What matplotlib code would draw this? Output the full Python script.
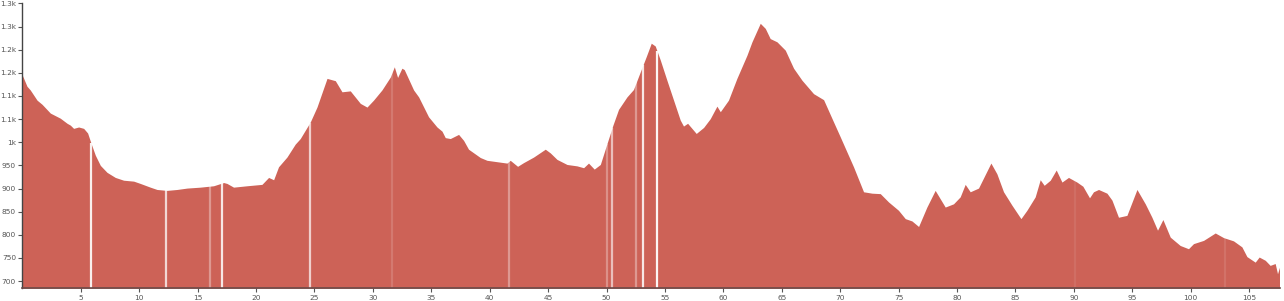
import matplotlib
matplotlib.use("Agg")
import matplotlib.pyplot as plt
import numpy as np

# distance along route (km) and elevation (m)
distance_km = [
    0.0, 0.4, 0.68, 1.26, 1.69, 2.4, 3.25, 3.83, 4.11, 4.39, 4.82, 5.25, 5.59, 5.88,
    6.25, 6.68, 7.25, 7.96, 8.67, 9.53, 10.1, 10.95, 11.53, 12.38, 13.24, 14.1, 15.23,
    16.37, 17.23, 17.52, 18.08, 19.23, 20.51, 21.08, 21.51, 21.93, 22.65, 23.36, 23.79,
    24.65, 25.22, 26.08, 26.79, 27.36, 28.07, 28.93, 29.5, 30.06, 30.78, 31.5, 31.84,
    32.12, 32.49, 32.69, 33.49, 33.92, 34.77, 35.49, 35.92, 36.2, 36.63, 37.34, 37.77,
    38.19, 39.2, 39.77, 41.48, 41.76, 42.39, 42.9, 43.76, 44.76, 45.19, 45.76, 46.62,
    47.47, 48.04, 48.46, 48.95, 49.47, 50.04, 50.55, 51.03, 51.75, 52.31, 52.89, 53.4,
    53.83, 54.17, 54.6, 55.17, 55.74, 56.31, 56.59, 56.94, 57.68, 58.31, 58.88, 59.45,
    59.74, 60.44, 61.16, 62.02, 62.45, 63.16, 63.59, 64.01, 64.59, 65.3, 66.01, 66.73,
    67.72, 68.58, 69.43, 70.0, 71.14, 72.0, 72.72, 73.43, 74.14, 74.99, 75.57, 76.14,
    76.71, 77.42, 78.13, 78.99, 79.7, 80.27, 80.7, 81.13, 81.84, 82.9, 83.41, 83.98,
    84.7, 85.47, 85.98, 86.69, 87.12, 87.46, 87.98, 88.49, 88.98, 89.54, 90.26, 90.77,
    91.34, 91.68, 92.11, 92.83, 93.26, 93.82, 94.54, 95.4, 96.11, 96.68, 97.16, 97.62,
    98.25, 99.1, 99.81, 100.24, 101.1, 102.1, 102.81, 103.66, 104.38, 104.81, 105.52,
    105.86, 106.38, 106.8, 107.23, 107.43, 107.6,
]
elevation_m = [
    1145, 1121, 1113, 1091, 1082, 1063, 1052, 1041, 1037, 1030, 1033, 1030, 1020, 998,
    972, 950, 935, 924, 918, 916, 911, 903, 898, 896, 898, 901, 903,
    906, 913, 911, 903, 906, 909, 924, 919, 947, 968, 996, 1008,
    1044, 1076, 1138, 1133, 1109, 1111, 1084, 1076, 1091, 1113, 1141, 1163,
    1140, 1160, 1157, 1113, 1098, 1055, 1033, 1024, 1010, 1008, 1017, 1004,
    985, 967, 961, 955, 961, 948, 956, 968, 985, 977, 963, 952,
    949, 945, 955, 942, 952, 997, 1037, 1071, 1098, 1114, 1152, 1185,
    1214, 1208, 1178, 1134, 1091, 1048, 1035, 1041, 1019, 1032, 1051, 1078,
    1066, 1091, 1138, 1188, 1217, 1257, 1246, 1224, 1217, 1199, 1160, 1134,
    1105, 1092, 1044, 1012, 947, 893, 890, 889, 871, 853, 835, 830,
    818, 860, 896, 860, 867, 882, 909, 893, 901, 955, 932, 893,
    864, 835, 853, 882, 919, 907, 918, 940, 914, 924, 914, 905,
    880, 893, 898, 890, 875, 838, 842, 898, 867, 838, 810, 833,
    795, 777, 770, 781, 788, 804, 794, 787, 774, 753, 741,
    752, 745, 734, 738, 716, 730,
]

# positions (km) of the white gaps in the profile and their visibility
gap_km = [5.88, 12.3, 16.09, 17.12, 24.59, 31.66, 41.68, 50.04, 50.47, 52.55, 53.12, 54.32, 90.1, 102.9]
gap_alpha = [0.9, 0.75, 0.35, 0.85, 0.7, 0.15, 0.35, 0.3, 0.6, 0.35, 0.85, 0.95, 0.08, 0.1]

y_ticks = [700, 750, 800, 850, 900, 950, 1000, 1050, 1100, 1150, 1200, 1250, 1300]
y_tick_labels = ["700", "750", "800", "850", "900", "950", "1k", "1.1k", "1.1k", "1.2k", "1.2k", "1.3k", "1.3k"]
x_ticks = [5, 10, 15, 20, 25, 30, 35, 40, 45, 50, 55, 60, 65, 70, 75, 80, 85, 90, 95, 100, 105]

W, H = 1284, 301
fig = plt.figure(figsize=(W / 100, H / 100), dpi=100)
left = 22.3 / W
right = 1279.5 / W
bottom = (H - 288.3) / H
top = (H - 3.4) / H
ax = fig.add_axes([left, bottom, right - left, top - bottom])

y_min = 684.5
ax.fill_between(distance_km, elevation_m, y_min, color="#cd6257", linewidth=0, zorder=1)

x = np.array(distance_km)
y = np.array(elevation_m)
for g, a in zip(gap_km, gap_alpha):
    ytop = np.interp(g, x, y)
    ax.vlines(g, y_min, ytop, color="white", alpha=a, linewidth=1.6, zorder=1.5)

ax.set_xlim(0, 107.6)
ax.set_ylim(y_min, 1300)

ax.set_yticks(y_ticks)
ax.set_yticklabels(y_tick_labels)
ax.set_xticks(x_ticks)
ax.set_xticklabels([str(t) for t in x_ticks])

for s in ["top", "right"]:
    ax.spines[s].set_visible(False)
ax.spines["left"].set_color("#444444")
ax.spines["left"].set_linewidth(1.0)
ax.spines["bottom"].set_color("#6b4a48")
ax.spines["bottom"].set_linewidth(1.2)

ax.tick_params(axis="both", which="major", length=3, width=0.8, color="#555555",
               labelsize=5.3, labelcolor="#555555", pad=1.5, direction="out")

fig.savefig("out.png", dpi=100, facecolor="white")
